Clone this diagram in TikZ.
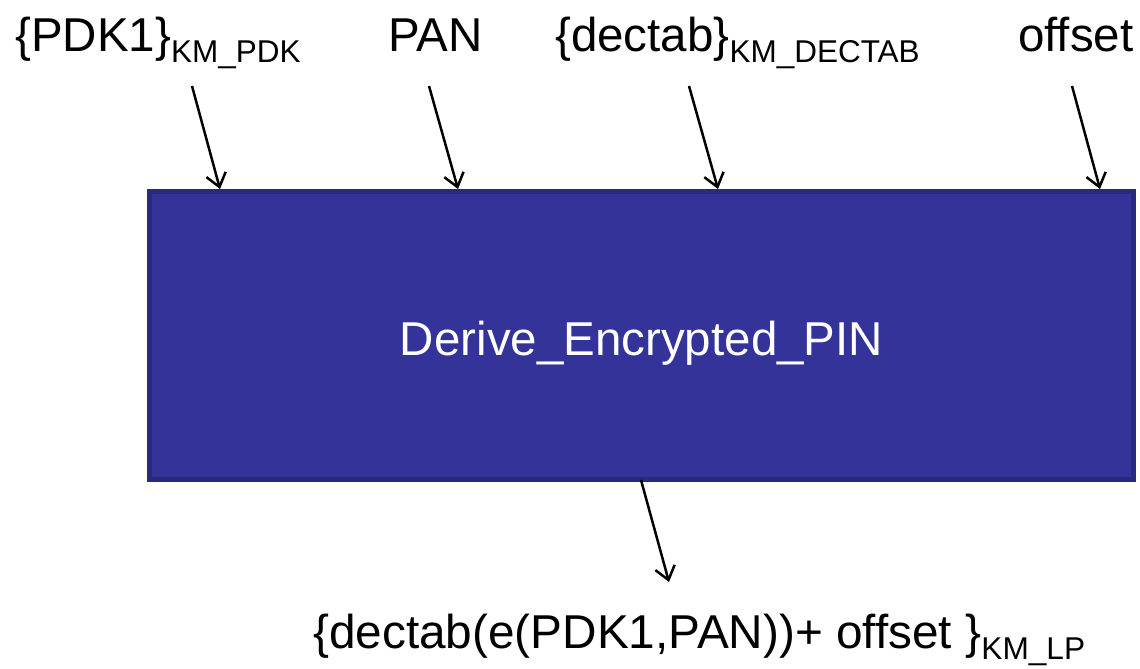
\documentclass[tikz,border=0pt]{standalone}
\usepackage{fontspec}
\setmainfont{Liberation Sans}
\usetikzlibrary{arrows.meta}
\definecolor{boxfill}{HTML}{333399}
\definecolor{boxline}{HTML}{29297F}
\newcommand{\bigtxt}{\fontsize{47.5}{56}\selectfont}
\newcommand{\subtxt}[1]{\raisebox{-11pt}{\fontsize{31.5}{36}\selectfont #1}}

\begin{document}
\begin{tikzpicture}[x=1pt,y=-1pt,
  lbl/.style={inner sep=0pt, anchor=base west, font=\bigtxt},
  flow/.style={line width=2.5pt, line join=round,
    -{Straight Barb[length=13pt,width=20pt,line width=2.5pt]}}]
\useasboundingbox (0,0) rectangle (1140,669);

% the operation block
\node[draw=boxline, fill=boxfill, line width=5pt, minimum width=984pt,
      minimum height=288pt, inner sep=0pt] (box) at (641.5,335.5) {};
\node[lbl, text=white, anchor=base] (name) at (641.5,355) {Derive\_Encrypted\_PIN};

% inputs
\node[lbl] (pdk) at (15,52) {\{PDK1\}\subtxt{KM\_PDK}};
\node[lbl] (pan) at (388,52) {PAN};
\node[lbl] (dectab) at (555,52) {\{dectab\}\subtxt{KM\_DECTAB}};
\node[lbl] (offset) at (1018,52) {offset};

% output
\node[lbl] (out) at (313,648)
  {\resizebox{772pt}{\height}{\{dectab(e(PDK1,PAN))+ offset \}\subtxt{KM\_LP}}};

% arrow end points
\coordinate (pdk-s) at (192,86);   \coordinate (pdk-e) at (220,189);
\coordinate (pan-s) at (429,86);   \coordinate (pan-e) at (458,189);
\coordinate (dec-s) at (689,86);   \coordinate (dec-e) at (718,189);
\coordinate (off-s) at (1072,86);  \coordinate (off-e) at (1100,189);
\coordinate (out-s) at (641,480);  \coordinate (out-e) at (669,582);

\draw[flow] (pdk-s) -- (pdk-e);
\draw[flow] (pan-s) -- (pan-e);
\draw[flow] (dec-s) -- (dec-e);
\draw[flow] (off-s) -- (off-e);
\draw[flow] (out-s) -- (out-e);
\end{tikzpicture}
\end{document}
